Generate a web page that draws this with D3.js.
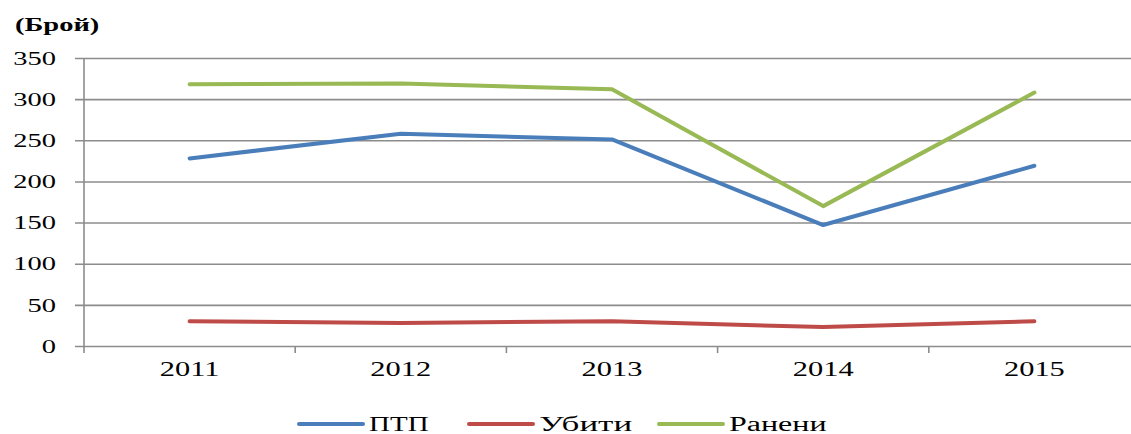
<!DOCTYPE html>
<html>
<head>
<meta charset="utf-8">
<script src="https://cdn.jsdelivr.net/npm/d3@7"></script>
<style>
  body { margin: 0; background: #fff; }
  text { font-family: "Liberation Serif", "Times New Roman", serif; fill: #000; }
</style>
</head>
<body>
<script>
var w = 1131; // Width of the picture
var h = 434;  // Height of the picture
var sx = 1.5; // Horizontal stretch of the text, as in the original

// Data
var years = ["2011", "2012", "2013", "2014", "2015"];
var seriesNames = ["ПТП", "Убити", "Ранени"];
var ptp = [228, 258, 251, 147, 219];
var killed = [30, 28, 30, 23, 30];
var injured = [318, 319, 312, 170, 308];
var yTicks = [0, 50, 100, 150, 200, 250, 300, 350];
var colors = ["#4a7ebb", "#be4b48", "#98b954"];

var series = [ptp, killed, injured];

var plotLeft = 84, plotTop = 58, plotBottom = 346;
var band = 211.2;

// Scales
var xScale = d3.scaleBand()
    .domain(years)
    .range([plotLeft, plotLeft + band * years.length]);

var yScale = d3.scaleLinear()
    .domain([0, 350])
    .range([plotBottom, plotTop]);

var svg = d3.select("body")
    .append("svg")
    .attr("width", w)
    .attr("height", h);

// Horizontal grid lines (with the small tick outside the axis)
svg.append("g")
    .attr("class", "grid")
    .attr("transform", "translate(" + plotLeft + ",0)")
    .call(d3.axisLeft(yScale).tickValues(yTicks).tickSize(-(w - plotLeft)).tickFormat(""))
    .call(function(g) {
        g.select(".domain").remove();
        g.selectAll("line")
            .attr("x1", -9)
            .attr("stroke", "#8c8c8c")
            .attr("stroke-width", 1.6);
    });

// Y axis labels
svg.append("g")
    .attr("class", "y-axis")
    .attr("transform", "translate(" + plotLeft + ",0)")
    .call(d3.axisLeft(yScale).tickValues(yTicks).tickSize(0))
    .call(function(g) {
        g.select(".domain").remove();
        g.selectAll("text")
            .attr("x", -28 / sx)
            .attr("dy", "0.33em")
            .attr("transform", "scale(" + sx + ",1)")
            .style("font-size", "19px");
    });

// Y axis line
svg.append("line")
    .attr("x1", plotLeft).attr("x2", plotLeft)
    .attr("y1", plotTop).attr("y2", plotBottom + 7)
    .attr("stroke", "#8c8c8c")
    .attr("stroke-width", 1.6);

// X axis tick marks at band edges
svg.append("g")
    .selectAll("line")
    .data(years.slice(1))
    .join("line")
    .attr("x1", function(d) { return xScale(d); })
    .attr("x2", function(d) { return xScale(d); })
    .attr("y1", plotBottom)
    .attr("y2", plotBottom + 7)
    .attr("stroke", "#8c8c8c")
    .attr("stroke-width", 1.6);

// X axis labels
svg.append("g")
    .attr("class", "x-axis")
    .attr("transform", "translate(0," + plotBottom + ")")
    .call(d3.axisBottom(xScale).tickSize(0))
    .call(function(g) {
        g.select(".domain").remove();
        g.selectAll("text")
            .attr("y", 30)
            .attr("dy", 0)
            .attr("transform", "scale(1.45,1)")
            .style("font-size", "21px");
    });

// Unit label
svg.append("text")
    .attr("transform", "translate(15,31) scale(" + sx + ",1)")
    .style("font-size", "19px")
    .style("font-weight", "bold")
    .text("(Брой)");

// Lines
var line = d3.line()
    .x(function(d, i) { return xScale(years[i]) + xScale.bandwidth() / 2; })
    .y(function(d) { return yScale(d); });

svg.append("g")
    .selectAll("path")
    .data(series)
    .join("path")
    .attr("d", line)
    .attr("fill", "none")
    .attr("stroke", function(d, i) { return colors[i]; })
    .attr("stroke-width", 4)
    .attr("stroke-linecap", "round")
    .attr("stroke-linejoin", "round");

// Legend
var legendX = [299, 469, 659];
var legendScale = [1.45, 1.75, 1.6];
var legend = svg.append("g")
    .selectAll("g")
    .data(seriesNames)
    .join("g")
    .attr("transform", function(d, i) { return "translate(" + legendX[i] + ",424)"; });

legend.append("line")
    .attr("x1", 0).attr("x2", 64)
    .attr("stroke", function(d, i) { return colors[i]; })
    .attr("stroke-width", 4)
    .attr("stroke-linecap", "round");

legend.append("text")
    .attr("transform", function(d, i) { return "translate(70,7) scale(" + legendScale[i] + ",1)"; })
    .style("font-size", "20px")
    .text(function(d) { return d; });
</script>
</body>
</html>
